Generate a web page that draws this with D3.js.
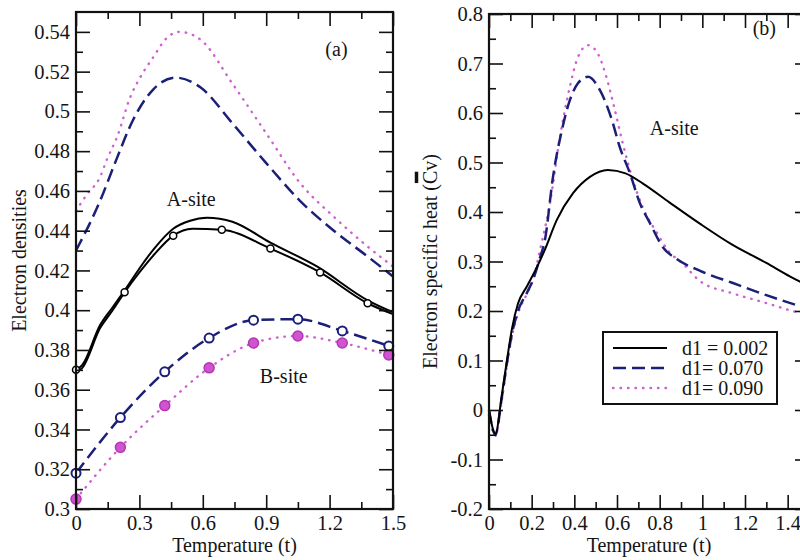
<!DOCTYPE html>
<html>
<head>
<meta charset="utf-8">
<script src="https://cdn.jsdelivr.net/npm/d3@7"></script>
<style>
	body { margin: 0; background: #fff; }
	text { font-family: "Liberation Serif", "Times New Roman", serif; fill: #151515; }
</style>
</head>
<body>
<svg id="chart" width="800" height="560"></svg>
<script>

// ---- panel (a) : electron densities ----
var aT002 = [0, 0.03, 0.114, 0.17, 0.24, 0.3, 0.37, 0.46, 0.54, 0.62, 0.74, 0.92, 1.14, 1.38, 1.5];
var aV002 = [0.37, 0.3725, 0.3925, 0.401, 0.4115, 0.421, 0.431, 0.441, 0.445, 0.4465, 0.4445, 0.434, 0.422, 0.405, 0.399];
var aT002b = [0, 0.03, 0.114, 0.17, 0.23, 0.3, 0.37, 0.46, 0.55, 0.69, 0.92, 1.155, 1.38, 1.5];
var aV002b = [0.369, 0.371, 0.391, 0.3995, 0.409, 0.419, 0.428, 0.4375, 0.441, 0.4405, 0.431, 0.419, 0.4035, 0.398];
var aMarkT002 = [0, 0.23, 0.46, 0.69, 0.92, 1.155, 1.38];
var aMarkV002 = [0.37, 0.409, 0.4375, 0.4405, 0.431, 0.419, 0.4035];

var aT070 = [0, 0.114, 0.19, 0.27, 0.365, 0.47, 0.59, 0.74, 0.9, 1.06, 1.22, 1.38, 1.5];
var aV070 = [0.43, 0.455, 0.4755, 0.4957, 0.511, 0.517, 0.512, 0.494, 0.474, 0.455, 0.44, 0.427, 0.417];

var aT090 = [0, 0.05, 0.114, 0.147, 0.194, 0.256, 0.303, 0.364, 0.43, 0.49, 0.59, 0.74, 0.9, 1.06, 1.22, 1.38, 1.5];
var aV090 = [0.45, 0.458, 0.467, 0.476, 0.487, 0.507, 0.517, 0.527, 0.537, 0.54, 0.536, 0.514, 0.489, 0.464, 0.447, 0.432, 0.422];

var bT = [0, 0.21, 0.42, 0.63, 0.84, 1.05, 1.26, 1.48];
var bV070 = [0.318, 0.346, 0.369, 0.386, 0.395, 0.3955, 0.3896, 0.382];
var bV090 = [0.305, 0.331, 0.352, 0.371, 0.3835, 0.387, 0.3835, 0.3775];

var densTicks = [0.3, 0.32, 0.34, 0.36, 0.38, 0.4, 0.42, 0.44, 0.46, 0.48, 0.5, 0.52, 0.54];
var densMinor = [0.31, 0.33, 0.35, 0.37, 0.39, 0.41, 0.43, 0.45, 0.47, 0.49, 0.51, 0.53];
var tempTicksA = [0, 0.3, 0.6, 0.9, 1.2, 1.5];
var tempMinorA = [0.15, 0.45, 0.75, 1.05, 1.35];

// ---- panel (b) : electron specific heat ----
var cT002 = [0, 0.03, 0.06, 0.084, 0.108, 0.136, 0.178, 0.224, 0.26, 0.318, 0.394, 0.473, 0.557, 0.64, 0.72, 0.847, 0.99, 1.14, 1.3, 1.41, 1.5];
var cV002 = [0, -0.048, 0.03, 0.1, 0.165, 0.215, 0.25, 0.288, 0.322, 0.384, 0.438, 0.471, 0.485, 0.478, 0.458, 0.419, 0.376, 0.334, 0.297, 0.27, 0.25];
var cT070 = [0, 0.03, 0.06, 0.084, 0.108, 0.136, 0.178, 0.206, 0.24, 0.262, 0.3, 0.342, 0.379, 0.417, 0.464, 0.52, 0.576, 0.613, 0.66, 0.707, 0.754, 0.815, 0.88, 0.99, 1.14, 1.3, 1.44, 1.5];
var cV070 = [0, -0.05, 0.025, 0.095, 0.155, 0.2, 0.237, 0.263, 0.309, 0.343, 0.471, 0.566, 0.626, 0.66, 0.673, 0.646, 0.586, 0.531, 0.479, 0.418, 0.378, 0.329, 0.305, 0.281, 0.257, 0.232, 0.212, 0.204];
var cT090 = [0, 0.03, 0.06, 0.084, 0.108, 0.136, 0.178, 0.206, 0.239, 0.286, 0.332, 0.379, 0.417, 0.464, 0.51, 0.55, 0.59, 0.627, 0.67, 0.72, 0.787, 0.838, 0.91, 0.99, 1.14, 1.3, 1.44, 1.5];
var cV090 = [-0.01, -0.052, 0.02, 0.09, 0.15, 0.195, 0.235, 0.262, 0.323, 0.418, 0.55, 0.653, 0.713, 0.737, 0.72, 0.673, 0.606, 0.539, 0.471, 0.41, 0.358, 0.323, 0.295, 0.26, 0.236, 0.216, 0.198, 0.192];

var cvTicks = [-0.2, -0.1, 0, 0.1, 0.2, 0.3, 0.4, 0.5, 0.6, 0.7, 0.8];
var cvMinor = [-0.15, -0.05, 0.05, 0.15, 0.25, 0.35, 0.45, 0.55, 0.65, 0.75];
var tempTicksB = [0, 0.2, 0.4, 0.6, 0.8, 1, 1.2, 1.4];
var tempMinorB = [0.1, 0.3, 0.5, 0.7, 0.9, 1.1, 1.3, 1.5];

var legendLabels = ["d1 = 0.002", "d1= 0.070", "d1= 0.090"];

var navy = "#1b1f78";
var pink = "#cf5fd3";
var styles = [
	{ stroke: "#000", width: 2, dash: null, cap: "butt" },
	{ stroke: navy, width: 2.5, dash: "13,6", cap: "butt" },
	{ stroke: pink, width: 2.4, dash: "0.5,7", cap: "round" }
];

var svg = d3.select("#chart");
var fmt = function(d) { return String(+d.toFixed(2)); };

function drawFrame(g, x, y, xMaj, xMin, yMaj, yMin) {
	var x0 = x.range()[0], x1 = x.range()[1], y0 = y.range()[0], y1 = y.range()[1];
	var bottom = g.append("g").attr("transform", "translate(0," + y0 + ")");
	bottom.call(d3.axisBottom(x).tickValues(xMin).tickSize(-7).tickFormat(""));
	bottom.append("g").call(d3.axisBottom(x).tickValues(xMaj).tickSize(-14).tickPadding(6).tickFormat(fmt));
	var top = g.append("g").attr("transform", "translate(0," + y1 + ")");
	top.call(d3.axisTop(x).tickValues(xMin).tickSize(-7).tickFormat(""));
	top.append("g").call(d3.axisTop(x).tickValues(xMaj).tickSize(-14).tickFormat(""));
	var left = g.append("g").attr("transform", "translate(" + x0 + ",0)");
	left.call(d3.axisLeft(y).tickValues(yMin).tickSize(-7).tickFormat(""));
	left.append("g").call(d3.axisLeft(y).tickValues(yMaj).tickSize(-14).tickPadding(6).tickFormat(fmt));
	var right = g.append("g").attr("transform", "translate(" + x1 + ",0)");
	right.call(d3.axisRight(y).tickValues(yMin).tickSize(-7).tickFormat(""));
	right.append("g").call(d3.axisRight(y).tickValues(yMaj).tickSize(-14).tickFormat(""));

	g.selectAll(".domain").remove();
	g.selectAll(".tick line").attr("stroke", "#111").attr("stroke-width", 1.6);
	g.selectAll(".tick text")
		.attr("font-family", null)
		.style("font-size", "20.5px")
		.attr("fill", "#151515");

	g.append("rect")
		.attr("x", x0).attr("y", y1)
		.attr("width", x1 - x0).attr("height", y0 - y1)
		.attr("fill", "none").attr("stroke", "#111").attr("stroke-width", 2.2);
}

function drawCurve(g, x, y, ts, vs, st) {
	var line = d3.line()
		.x(function(d) { return x(d[0]); })
		.y(function(d) { return y(d[1]); })
		.curve(d3.curveMonotoneX);
	g.append("path")
		.datum(d3.zip(ts, vs))
		.attr("d", line)
		.attr("fill", "none")
		.attr("stroke", st.stroke)
		.attr("stroke-width", st.width)
		.attr("stroke-dasharray", st.dash)
		.attr("stroke-linecap", st.cap);
}

function drawMarks(g, x, y, ts, vs, r, fill, stroke, sw) {
	g.selectAll(null)
		.data(d3.zip(ts, vs))
		.enter().append("circle")
		.attr("cx", function(d) { return x(d[0]); })
		.attr("cy", function(d) { return y(d[1]); })
		.attr("r", r)
		.attr("fill", fill)
		.attr("stroke", stroke)
		.attr("stroke-width", sw);
}

function label(g, txt, xp, yp) {
	g.append("text").attr("x", xp).attr("y", yp).style("font-size", "20px").text(txt);
}

// panel (a)
var xa = d3.scaleLinear().domain([0, 1.5]).range([76, 393]);
var ya = d3.scaleLinear().domain([0.3, 0.55]).range([509, 12]);
var ga = svg.append("g");

drawCurve(ga, xa, ya, aT090, aV090, styles[2]);
drawCurve(ga, xa, ya, aT070, aV070, styles[1]);
drawCurve(ga, xa, ya, aT002, aV002, styles[0]);
drawCurve(ga, xa, ya, aT002b, aV002b, styles[0]);
drawMarks(ga, xa, ya, aMarkT002, aMarkV002, 3.5, "#fff", "#000", 1.5);
drawCurve(ga, xa, ya, bT, bV070, styles[1]);
drawCurve(ga, xa, ya, bT, bV090, styles[2]);
drawMarks(ga, xa, ya, bT, bV070, 4.5, "#fff", navy, 2);
drawMarks(ga, xa, ya, bT, bV090, 5, "#cf55cf", "#b436b4", 1.5);
drawFrame(ga, xa, ya, tempTicksA, tempMinorA, densTicks, densMinor);

label(ga, "(a)", xa(1.18), ya(0.528));
label(ga, "A-site", xa(0.43), ya(0.4524));
label(ga, "B-site", xa(0.87), ya(0.3634));

ga.append("text")
	.attr("x", (xa.range()[0] + xa.range()[1]) / 2).attr("y", 552)
	.attr("text-anchor", "middle").style("font-size", "20px")
	.text("Temperature (t)");
ga.append("text")
	.attr("transform", "translate(26," + (ya.range()[0] + ya.range()[1]) / 2 + ") rotate(-90)")
	.attr("text-anchor", "middle").style("font-size", "20px")
	.text("Electron densities");

// panel (b)
var xb = d3.scaleLinear().domain([0, 1.5]).range([489, 809]);
var yb = d3.scaleLinear().domain([-0.2, 0.8]).range([509, 14]);
var gb = svg.append("g");

drawCurve(gb, xb, yb, cT090, cV090, styles[2]);
drawCurve(gb, xb, yb, cT070, cV070, styles[1]);
drawCurve(gb, xb, yb, cT002, cV002, styles[0]);
drawFrame(gb, xb, yb, tempTicksB, tempMinorB, cvTicks, cvMinor);

label(gb, "(b)", xb(1.236), yb(0.757));
label(gb, "A-site", xb(0.754), yb(0.555));

gb.append("text")
	.attr("x", (xb.range()[0] + xb.range()[1]) / 2).attr("y", 552)
	.attr("text-anchor", "middle").style("font-size", "20px")
	.text("Temperature (t)");

var ylab = gb.append("g")
	.attr("transform", "translate(437," + (yb.range()[0] + yb.range()[1]) / 2 + ") rotate(-90)");
var ylabText = ylab.append("text")
	.attr("text-anchor", "middle").style("font-size", "20px")
	.text("Electron specific heat (Cv)");
// bar over the C
var cIdx = ylabText.text().indexOf("C");
var ext = ylabText.node().getExtentOfChar(cIdx);
ylab.append("line")
	.attr("x1", ext.x + 1).attr("x2", ext.x + ext.width - 1)
	.attr("y1", -20.5).attr("y2", -20.5)
	.attr("stroke", "#111").attr("stroke-width", 3.5);

// legend
var leg = gb.append("g").attr("transform", "translate(603,332)");
leg.append("rect")
	.attr("width", 174).attr("height", 72)
	.attr("fill", "#fff").attr("stroke", "#111").attr("stroke-width", 2);
legendLabels.forEach(function(t, i) {
	var yy = 16 + i * 20;
	leg.append("line")
		.attr("x1", 10).attr("x2", 64)
		.attr("y1", yy).attr("y2", yy)
		.attr("stroke", styles[i].stroke)
		.attr("stroke-width", styles[i].width)
		.attr("stroke-dasharray", styles[i].dash)
		.attr("stroke-linecap", styles[i].cap);
	leg.append("text")
		.attr("x", 79).attr("y", yy + 7)
		.style("font-size", "20px")
		.text(t);
});

</script>
</body>
</html>
